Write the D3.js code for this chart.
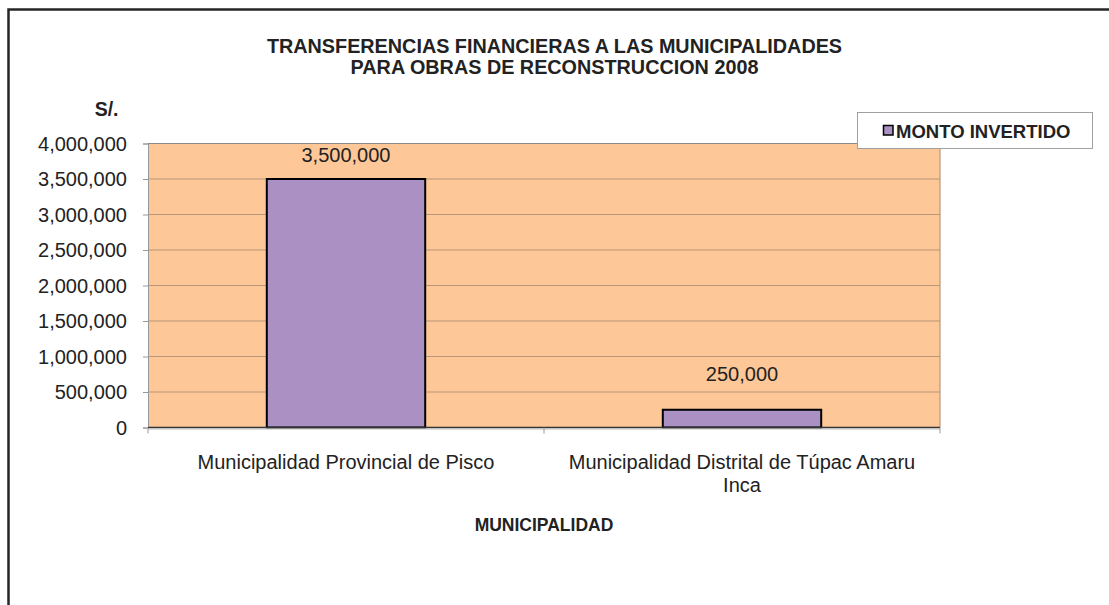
<!DOCTYPE html>
<html>
<head>
<meta charset="utf-8">
<script src="https://cdn.jsdelivr.net/npm/d3@7"></script>
<style>
  html, body { margin: 0; padding: 0; background: #fff; }
  svg { display: block; }
  text { font-family: "Liberation Sans", Arial, sans-serif; fill: #222; }
</style>
</head>
<body>
<svg id="chart" width="1109" height="605"></svg>
<script>
// ---- data ----
const categories = [
  ["Municipalidad Provincial de Pisco"],
  ["Municipalidad Distrital de Túpac Amaru", "Inca"]
];
const seriesName = "MONTO INVERTIDO";
const values = [3500000, 250000];
const yTicks = [0, 500000, 1000000, 1500000, 2000000, 2500000, 3000000, 3500000, 4000000];
const titleLines = ["TRANSFERENCIAS FINANCIERAS A LAS MUNICIPALIDADES", "PARA OBRAS DE RECONSTRUCCION 2008"];
const yTitle = "S/.";
const xTitle = "MUNICIPALIDAD";

// ---- layout ----
const svg = d3.select("#chart");
const W = 1109, H = 605;
const plot = { left: 148, right: 940, top: 143.5, bottom: 427.5 };
const peach = "#fdc797", purple = "#ab90c4", grid = "#b8977a";

svg.append("rect").attr("width", W).attr("height", H).attr("fill", "#fff");
// chart frame (extends beyond the picture on right/bottom)
svg.append("rect").attr("x", 8.5).attr("y", 9.5).attr("width", 1300).attr("height", 800)
  .attr("fill", "none").attr("stroke", "#262626").attr("stroke-width", 2.5);

const x = d3.scaleBand().domain(d3.range(categories.length))
  .range([plot.left, plot.right]).paddingInner(0.6).paddingOuter(0.3);
const y = d3.scaleLinear().domain([0, d3.max(yTicks)]).range([plot.bottom, plot.top]);
const fmt = d3.format(",");

// plot area
svg.append("rect").attr("x", plot.left).attr("y", plot.top)
  .attr("width", plot.right - plot.left).attr("height", plot.bottom - plot.top)
  .attr("fill", peach);

// gridlines
svg.append("g").selectAll("line").data(yTicks.filter(t => t > 0 && t < d3.max(yTicks))).join("line")
  .attr("x1", plot.left).attr("x2", plot.right)
  .attr("y1", d => y(d)).attr("y2", d => y(d))
  .attr("stroke", grid).attr("stroke-width", 1.2);
// plot borders
svg.append("line").attr("x1", plot.left).attr("x2", plot.right).attr("y1", plot.top).attr("y2", plot.top)
  .attr("stroke", "#8a8a8a").attr("stroke-width", 1.2);
svg.append("line").attr("x1", plot.right).attr("x2", plot.right).attr("y1", plot.top).attr("y2", plot.bottom)
  .attr("stroke", grid).attr("stroke-width", 1.2);

// y axis
const yAxis = svg.append("g").attr("transform", `translate(${plot.left},0)`)
  .call(d3.axisLeft(y).tickValues(yTicks).tickFormat(fmt).tickSize(5).tickPadding(16));
yAxis.select(".domain").attr("stroke", "#999").attr("stroke-width", 1);
yAxis.selectAll(".tick line").attr("stroke", "#999");
yAxis.selectAll(".tick text").attr("font-size", 20).attr("fill", "#222")
  .attr("font-family", "'Liberation Sans', Arial, sans-serif").attr("dy", "0.34em");

// bars
svg.append("g").selectAll("rect").data(values).join("rect")
  .attr("x", (d, i) => x(i)).attr("width", x.bandwidth())
  .attr("y", d => y(d)).attr("height", d => y(0) - y(d))
  .attr("fill", purple).attr("stroke", "#000").attr("stroke-width", 2);

// x axis
svg.append("line").attr("x1", plot.left).attr("x2", plot.right).attr("y1", plot.bottom).attr("y2", plot.bottom)
  .attr("stroke", "#333").attr("stroke-width", 1.5);
const xb = d3.scaleLinear().domain([0, categories.length]).range([plot.left, plot.right]);
svg.append("line").attr("x1", plot.left).attr("x2", plot.right).attr("y1", plot.bottom + 1.5).attr("y2", plot.bottom + 1.5)
  .attr("stroke", "#bbb").attr("stroke-width", 1);
svg.append("g").selectAll("line").data(d3.range(categories.length + 1)).join("line")
  .attr("x1", d => xb(d)).attr("x2", d => xb(d))
  .attr("y1", plot.bottom).attr("y2", plot.bottom + 6)
  .attr("stroke", "#999").attr("stroke-width", 1);

// category labels
const catG = svg.append("g").selectAll("text").data(categories).join("text")
  .attr("text-anchor", "middle").attr("font-size", 20)
  .attr("x", (d, i) => x(i) + x.bandwidth() / 2).attr("y", 468.5);
catG.selectAll("tspan").data(d => d).join("tspan")
  .attr("x", function () { return d3.select(this.parentNode).attr("x"); })
  .attr("dy", (d, i) => i === 0 ? 0 : 23.5)
  .text(d => d);

// data labels (kept inside plot area)
svg.append("g").selectAll("text").data(values).join("text")
  .attr("text-anchor", "middle").attr("font-size", 20)
  .attr("x", (d, i) => x(i) + x.bandwidth() / 2)
  .attr("y", d => Math.max(y(d) - 29, plot.top + 18.5))
  .text(d => fmt(d));

// titles
svg.append("g").selectAll("text").data(titleLines).join("text")
  .attr("text-anchor", "middle").attr("font-size", 19.8).attr("font-weight", "bold")
  .attr("x", 554.5).attr("y", (d, i) => 52.5 + i * 21.5)
  .text(d => d);
svg.append("text").attr("text-anchor", "end").attr("font-size", 19.5).attr("font-weight", "bold")
  .attr("x", 118.5).attr("y", 115.5).text(yTitle);
svg.append("text").attr("text-anchor", "middle").attr("font-size", 17.5).attr("font-weight", "bold")
  .attr("x", (plot.left + plot.right) / 2).attr("y", 531).text(xTitle);

// legend
const lg = svg.append("g");
lg.append("rect").attr("x", 857.5).attr("y", 112.5).attr("width", 235).attr("height", 36)
  .attr("fill", "#fff").attr("stroke", "#a0a0a0").attr("stroke-width", 1);
lg.append("rect").attr("x", 883.5).attr("y", 125.5).attr("width", 9.5).attr("height", 9.5)
  .attr("fill", purple).attr("stroke", "#000").attr("stroke-width", 1.5);
lg.append("text").attr("x", 896).attr("y", 137.5).attr("font-size", 18.5).attr("font-weight", "bold")
  .text(seriesName);
</script>
</body>
</html>
